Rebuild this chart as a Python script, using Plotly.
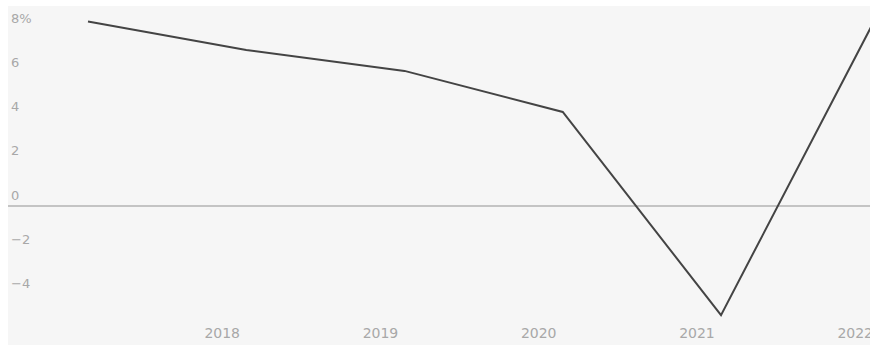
import plotly.graph_objects as go

years = [2017, 2018, 2019, 2020, 2021, 2022]
growth = [8.33, 7.05, 6.1, 4.24, -4.95, 8.8]

x_tick_years = [2018, 2019, 2020, 2021, 2022]
x_tick_text = ["2018", "2019", "2020", "2021", "2022"]
y_tick_values = [8, 6, 4, 2, 0, -2, -4]
y_tick_text = ["8%", "6", "4", "2", "0", "\u22122", "\u22124"]

label_shift_x = -0.152
label_shift_y = 0.48

BG = "#f6f6f6"
W, H = 870, 345
ML, MT, MB = 8, 6, 25
plot_h = H - MT - MB

fig = go.Figure()
fig.add_trace(go.Scatter(
    x=years, y=growth, mode="lines",
    line=dict(color="#444444", width=2),
    hoverinfo="skip", showlegend=False,
))

fig.update_layout(
    width=W, height=H, autosize=False,
    margin=dict(l=ML, r=0, t=MT, b=MB),
    paper_bgcolor="#ffffff",
    plot_bgcolor=BG,
    font=dict(family="DejaVu Sans", size=14, color="#a8a8a8"),
    shapes=[dict(
        type="rect", xref="paper", yref="paper",
        x0=0, x1=1.02, y0=-MB / plot_h - 0.05, y1=0,
        fillcolor=BG, line=dict(width=0), layer="below",
    )],
)
fig.update_xaxes(
    range=[2016.4945, 2021.9415],
    automargin=False,
    tickmode="array",
    tickvals=[y + label_shift_x for y in x_tick_years],
    ticktext=x_tick_text,
    ticklabelposition="outside",
    ticklabeloverflow="allow",
    ticklabelstandoff=3,
    showgrid=False, zeroline=False, showline=False, ticks="",
    tickfont=dict(size=14, color="#a8a8a8"),
)
fig.update_yaxes(
    range=[-5.172, 9.036],
    automargin=False,
    tickmode="array",
    tickvals=[v + label_shift_y for v in y_tick_values],
    ticktext=y_tick_text,
    ticklabelposition="inside",
    showgrid=False, zeroline=True, zerolinecolor="#c4c4c4", zerolinewidth=1.5,
    showline=False, ticks="",
    tickfont=dict(size=13, color="#a8a8a8"),
)

fig.write_html("out.html")
